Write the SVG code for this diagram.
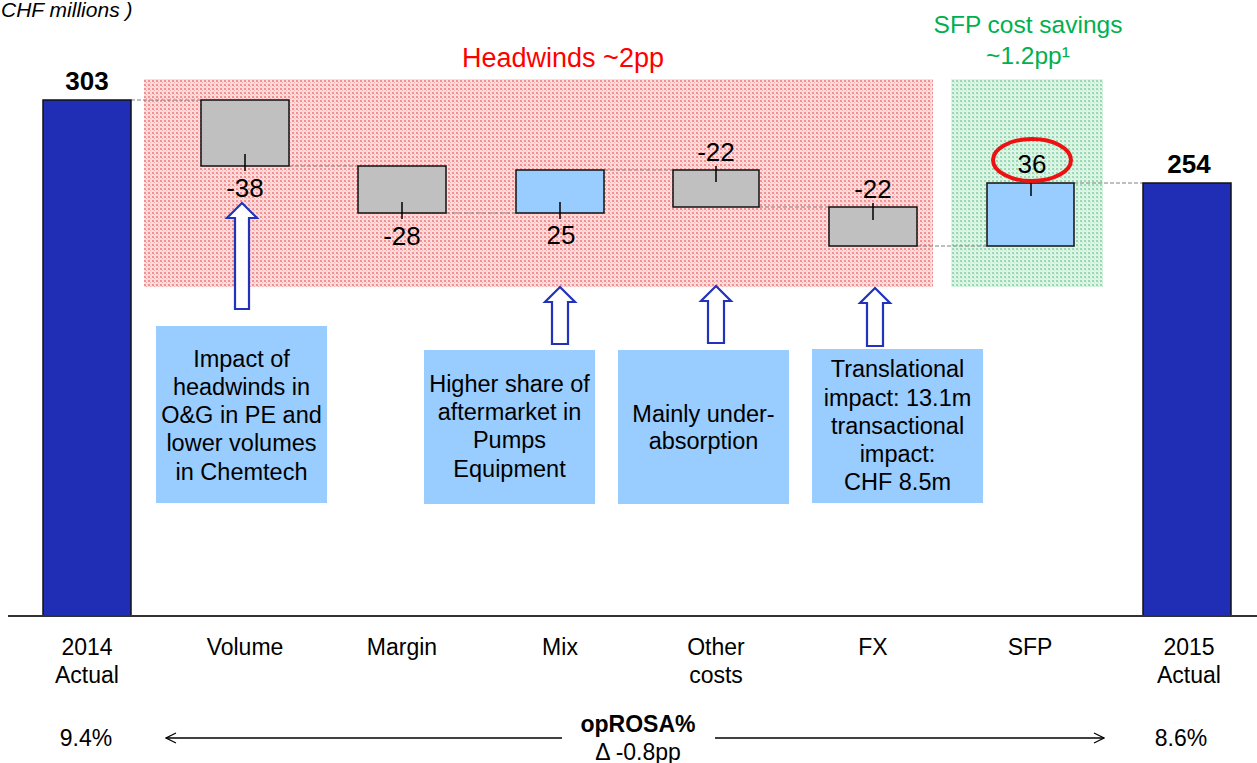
<svg xmlns="http://www.w3.org/2000/svg" width="1257" height="763" viewBox="0 0 1257 763">
<defs>
<pattern id="pRed" width="4" height="4" patternUnits="userSpaceOnUse">
<rect width="4" height="4" fill="#fcdcdc"/>
<rect x="0" y="0" width="2" height="2" fill="#f59090"/>
<rect x="2" y="2" width="1" height="1" fill="#f9b0b0"/>
</pattern>
<pattern id="pGreen" width="4" height="4" patternUnits="userSpaceOnUse">
<rect width="4" height="4" fill="#e0f4e8"/>
<rect x="0" y="0" width="2" height="2" fill="#98d9b3"/>
<rect x="2" y="2" width="1" height="1" fill="#bbe6cc"/>
</pattern>
<marker id="chev" viewBox="0 0 12 12" refX="11" refY="6" markerWidth="12" markerHeight="12" markerUnits="userSpaceOnUse" orient="auto-start-reverse">
<path d="M1,1 L11,6 L1,11" fill="none" stroke="#000" stroke-width="1.2"/>
</marker>
</defs>
<style>
text{font-family:"Liberation Sans",Arial,sans-serif;fill:#000}
.num{font-size:26px;text-anchor:middle}
.big{font-size:26px;font-weight:bold;text-anchor:middle}
.lbl{font-size:23px;text-anchor:middle}
.note{font-size:23.5px;text-anchor:middle}
.total{fill:#1f2eb4;stroke:#111;stroke-width:1.5}
.neg{fill:#c0c0c0;stroke:#111;stroke-width:1.5}
.pos{fill:#99ccff;stroke:#111;stroke-width:1.5}
.box{fill:#99ccff}
.tick{stroke:#000;stroke-width:1.5}
.dash{stroke:#808080;stroke-width:1;stroke-dasharray:4 2;fill:none}
.uparrow{fill:#fff;stroke:#2233bb;stroke-width:2.2}
</style>

<text x="1" y="17" style="font-size:21px;font-style:italic">CHF millions )</text>

<rect x="144" y="79" width="789" height="208" fill="url(#pRed)"/>
<rect x="951" y="79" width="152" height="208" fill="url(#pGreen)"/>
<text x="563" y="67" style="font-size:27px;text-anchor:middle;fill:#ff0000">Headwinds ~2pp</text>
<text x="1028" y="33" style="font-size:24.5px;text-anchor:middle;fill:#00b050">SFP cost savings</text>
<text x="1028" y="64" style="font-size:24.5px;text-anchor:middle;fill:#00b050">~1.2pp¹</text>

<g id="connectors">
<path class="dash" d="M131,100 H201"/>
<path class="dash" d="M289,166 H358"/>
<path class="dash" d="M446,213 H516"/>
<path class="dash" d="M604,170 H673"/>
<path class="dash" d="M759,207 H829"/>
<path class="dash" d="M917,246 H987"/>
<path class="dash" d="M1074,183 H1143"/>
<path class="uparrow" d="M242,203 L257,218 L249,218 L249,309 L235,309 L235,218 L227,218 Z"/>
<path class="uparrow" d="M560,287 L575,302 L568,302 L568,344 L552,344 L552,302 L545,302 Z"/>
<path class="uparrow" d="M716,286 L731,301 L724,301 L724,343 L708,343 L708,301 L701,301 Z"/>
<path class="uparrow" d="M875,288 L890,303 L883,303 L883,346 L867,346 L867,303 L860,303 Z"/>
<line x1="166" y1="738" x2="562" y2="738" stroke="#000" stroke-width="1.3" marker-start="url(#chev)"/>
<line x1="715" y1="738" x2="1104" y2="738" stroke="#000" stroke-width="1.3" marker-end="url(#chev)"/>
</g>

<g id="bar-2014">
<rect class="total" x="43" y="100" width="88" height="516"/>
<text class="big" x="87" y="90">303</text>
</g>
<g id="bar-volume">
<rect class="neg" x="201" y="100" width="88" height="66"/>
<line class="tick" x1="245" y1="154" x2="245" y2="171"/>
<text class="num" x="245" y="197">-38</text>
</g>
<g id="bar-margin">
<rect class="neg" x="358" y="166" width="88" height="47"/>
<line class="tick" x1="402" y1="202" x2="402" y2="219"/>
<text class="num" x="402" y="245">-28</text>
</g>
<g id="bar-mix">
<rect class="pos" x="516" y="170" width="88" height="43"/>
<line class="tick" x1="560" y1="202" x2="560" y2="219"/>
<text class="num" x="561" y="244">25</text>
</g>
<g id="bar-other">
<rect class="neg" x="673" y="170" width="86" height="37"/>
<line class="tick" x1="716" y1="166" x2="716" y2="182"/>
<text class="num" x="716" y="161">-22</text>
</g>
<g id="bar-fx">
<rect class="neg" x="829" y="207" width="88" height="39"/>
<line class="tick" x1="873" y1="203" x2="873" y2="220"/>
<text class="num" x="873" y="198">-22</text>
</g>
<g id="bar-sfp">
<rect class="pos" x="987" y="183" width="87" height="63"/>
<line class="tick" x1="1031" y1="179" x2="1031" y2="196"/>
<text class="num" x="1032" y="173">36</text>
<ellipse cx="1032" cy="160" rx="39" ry="21" fill="none" stroke="#ee1111" stroke-width="4"/>
</g>
<g id="bar-2015">
<rect class="total" x="1143" y="183" width="88" height="433"/>
<text class="big" x="1189" y="173">254</text>
</g>

<line x1="8" y1="616" x2="1257" y2="616" stroke="#333" stroke-width="2"/>

<g id="note-volume">
<rect class="box" x="156" y="326" width="171" height="177"/>
<text class="note" x="241.5" y="367">Impact of</text>
<text class="note" x="241.5" y="395">headwinds in</text>
<text class="note" x="241.5" y="423">O&amp;G in PE and</text>
<text class="note" x="241.5" y="451">lower volumes</text>
<text class="note" x="241.5" y="480">in Chemtech</text>
</g>
<g id="note-mix">
<rect class="box" x="424" y="350" width="171" height="154"/>
<text class="note" x="509.5" y="392">Higher share of</text>
<text class="note" x="509.5" y="420">aftermarket in</text>
<text class="note" x="509.5" y="448">Pumps</text>
<text class="note" x="509.5" y="477">Equipment</text>
</g>
<g id="note-other">
<rect class="box" x="618" y="350" width="171" height="154"/>
<text class="note" x="703.5" y="422">Mainly under-</text>
<text class="note" x="703.5" y="449">absorption</text>
</g>
<g id="note-fx">
<rect class="box" x="812" y="349" width="171" height="154"/>
<text class="note" x="897.5" y="377">Translational</text>
<text class="note" x="897.5" y="406">impact: 13.1m</text>
<text class="note" x="897.5" y="434">transactional</text>
<text class="note" x="897.5" y="462">impact:</text>
<text class="note" x="897.5" y="490">CHF 8.5m</text>
</g>

<g id="axis-labels">
<text class="lbl" x="87" y="655">2014</text>
<text class="lbl" x="87" y="683">Actual</text>
<text class="lbl" x="245" y="655">Volume</text>
<text class="lbl" x="402" y="655">Margin</text>
<text class="lbl" x="560" y="655">Mix</text>
<text class="lbl" x="716" y="655">Other</text>
<text class="lbl" x="716" y="683">costs</text>
<text class="lbl" x="873" y="655">FX</text>
<text class="lbl" x="1030" y="655">SFP</text>
<text class="lbl" x="1189" y="655">2015</text>
<text class="lbl" x="1189" y="683">Actual</text>
</g>

<g id="oprosa">
<text class="lbl" x="86" y="746">9.4%</text>
<text class="lbl" x="1181" y="746">8.6%</text>
<text class="lbl" x="638" y="732" style="font-weight:bold">opROSA%</text>
<text class="lbl" x="638" y="760">Δ -0.8pp</text>
</g>
</svg>
